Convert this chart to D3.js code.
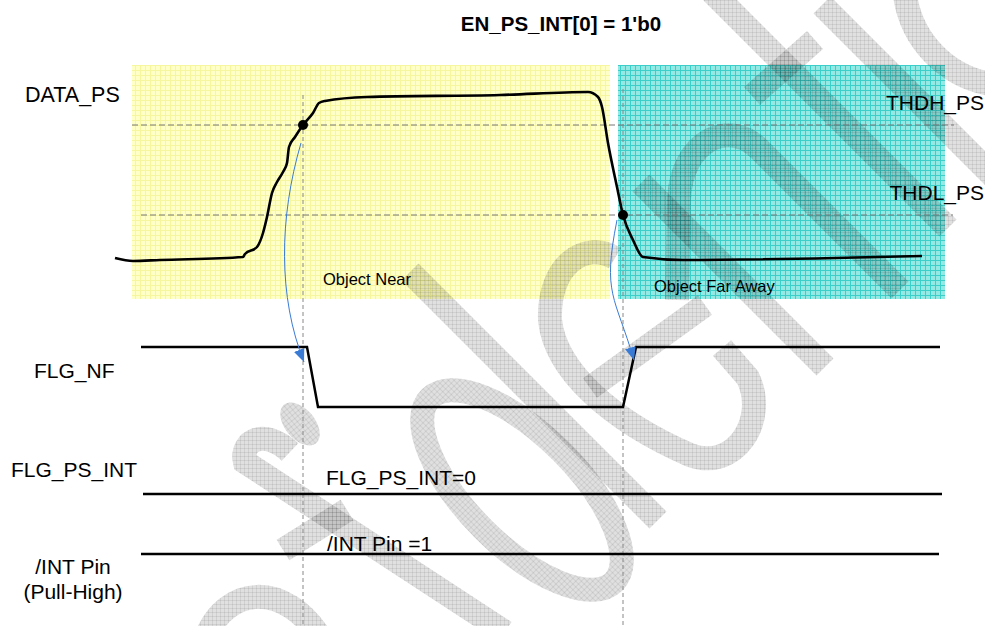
<!DOCTYPE html>
<html>
<head>
<meta charset="utf-8">
<script src="https://cdn.jsdelivr.net/npm/d3@7"></script>
<style>
  body { margin: 0; background: #fff; }
  svg { display: block; }
  text { font-family: Arial, "Liberation Sans", sans-serif; fill: #000; }
</style>
</head>
<body>
<svg id="chart"></svg>
<script>
const width = 985;
const height = 626;

// DATA_PS trace (time units, counts)
const psTime  = [0, 18, 45, 128, 130, 142, 148, 152, 157, 162, 168, 172, 174, 180, 188, 198, 204, 210, 252, 385, 473, 483, 487, 493, 502, 508, 518, 528, 568, 807];
const psValue = [7, 4, 5, 8, 11, 18, 32, 48, 72, 83, 93, 102, 118, 128, 140, 152, 162, 164, 168, 170, 173, 168, 158, 122, 78, 50, 25, 8, 5, 9];

// thresholds
const thresholdNames  = ["THDH_PS", "THDL_PS"];
const thresholdValues = [140, 50];
const thresholdSpan   = [[17, 839], [26, 838]];

// crossing events
const eventTime  = [188, 508];
const eventValue = [140, 50];

// shaded regions
const regionLabels = ["Object Near", "Object Far Away"];
const regionStart  = [17, 503];
const regionEnd    = [495, 830];

// digital signals
const nfTime  = [26, 192, 203, 508, 521, 825];
const nfLevel = [1, 1, 0, 0, 1, 1];
const psIntTime  = [28, 827];
const psIntLevel = [0, 0];
const intTime  = [26, 824];
const intLevel = [1, 1];

const x = d3.scaleLinear().domain([0, 807]).range([115, 922]);
const yPS = d3.scaleLinear().domain([0, 170]).range([265, 95]);
const yNF = d3.scaleLinear().domain([0, 1]).range([407, 347]);
const yPsInt = d3.scaleLinear().domain([0, 1]).range([494, 434]);
const yInt = d3.scaleLinear().domain([0, 1]).range([614, 554]);

const svg = d3.select("#chart").attr("width", width).attr("height", height);
const defs = svg.append("defs");

function gridPattern(id, base, line, size) {
    const p = defs.append("pattern").attr("id", id)
        .attr("patternUnits", "userSpaceOnUse")
        .attr("width", size).attr("height", size);
    p.append("rect").attr("width", size).attr("height", size).attr("fill", base);
    p.append("path").attr("d", "M0,0.5H" + size + "M0.5,0V" + size)
        .attr("stroke", line).attr("stroke-width", 1).attr("fill", "none");
}
gridPattern("yellowGrid", "#FFFFC8", "#F6F69E", 5);
gridPattern("cyanGrid", "#95E9E5", "#3CCFCA", 5);

const wm = defs.append("pattern").attr("id", "wmGrid")
    .attr("patternUnits", "userSpaceOnUse").attr("width", 4).attr("height", 4);
wm.append("rect").attr("width", 4).attr("height", 4).attr("fill", "#000").attr("fill-opacity", 0.12);
wm.append("path").attr("d", "M0,0.5H4M0.5,0V4").attr("stroke", "#000")
    .attr("stroke-opacity", 0.07).attr("fill", "none");

defs.append("marker").attr("id", "arrowhead")
    .attr("markerUnits", "userSpaceOnUse")
    .attr("viewBox", "0 0 13 11").attr("refX", 13).attr("refY", 5.5)
    .attr("markerWidth", 13).attr("markerHeight", 11)
    .attr("orient", "auto")
    .append("path").attr("d", "M0,0L13,5.5L0,11Z").attr("fill", "#3A7BD5");

// regions
svg.append("g").selectAll("rect")
    .data(regionLabels)
    .enter()
    .append("rect")
    .attr("x", function (d, i) { return x(regionStart[i]); })
    .attr("width", function (d, i) { return x(regionEnd[i]) - x(regionStart[i]); })
    .attr("y", yPS(200))
    .attr("height", yPS(-34) - yPS(200))
    .attr("fill", function (d, i) { return i === 0 ? "url(#yellowGrid)" : "url(#cyanGrid)"; });

// watermark (decorative)
const wmPaths = [
    "M712,-8L948,228",
    "M822,5L995,178",
    "M905,-5A105,105 0 0 0 990,84",
    "M752,96L815,40",
    "M677,300L679,200C681,140 730,118 760,150L900,290",
    "M641,183L825,367",
    "M410,272L658,520",
    "M590,388L705,305",
    "M615,258C585,240 548,265 550,320C555,370 610,420 690,455C735,472 768,420 748,378L722,348",
    "M290,452C265,428 240,440 245,462L505,632",
    "M283,550L347,510",
    "M205,640C225,585 285,580 322,640"
];
const wmG = svg.append("g").attr("class", "watermark");
wmG.selectAll("path").data(wmPaths).enter().append("path")
    .attr("d", function (d) { return d; })
    .attr("fill", "none")
    .attr("stroke", "url(#wmGrid)")
    .attr("stroke-width", 24);
wmG.append("ellipse").attr("cx", 300).attr("cy", 424).attr("rx", 25).attr("ry", 15)
    .attr("transform", "rotate(50,300,424)").attr("fill", "url(#wmGrid)");
wmG.append("ellipse").attr("cx", 522).attr("cy", 490).attr("rx", 130).attr("ry", 55)
    .attr("transform", "rotate(45,522,490)").attr("fill", "none")
    .attr("stroke", "url(#wmGrid)").attr("stroke-width", 24);

// thresholds
svg.append("g").selectAll("line")
    .data(thresholdValues)
    .enter()
    .append("line")
    .attr("x1", function (d, i) { return x(thresholdSpan[i][0]); })
    .attr("x2", function (d, i) { return x(thresholdSpan[i][1]); })
    .attr("y1", function (d) { return yPS(d); })
    .attr("y2", function (d) { return yPS(d); })
    .attr("stroke", "#777")
    .attr("stroke-width", 1)
    .attr("stroke-dasharray", "6,3");

// event markers
svg.append("g").selectAll("line")
    .data(eventTime)
    .enter()
    .append("line")
    .attr("x1", function (d) { return x(d); })
    .attr("x2", function (d) { return x(d); })
    .attr("y1", function (d, i) { return yPS(i === 0 ? 170 : 176); })
    .attr("y2", height)
    .attr("stroke", "#888")
    .attr("stroke-width", 1)
    .attr("stroke-dasharray", "4,3");

// DATA_PS trace
const psLine = d3.line()
    .x(function (d, i) { return x(psTime[i]); })
    .y(function (d) { return yPS(d); })
    .curve(d3.curveMonotoneX);

svg.append("path")
    .attr("d", psLine(psValue))
    .attr("fill", "none")
    .attr("stroke", "#000")
    .attr("stroke-width", 2.6);

svg.append("g").selectAll("circle")
    .data(eventTime)
    .enter()
    .append("circle")
    .attr("cx", function (d) { return x(d); })
    .attr("cy", function (d, i) { return yPS(eventValue[i]); })
    .attr("r", 5)
    .attr("fill", "#000");

// digital waveforms
function wave(times, levels, yScale) {
    const line = d3.line()
        .x(function (d, i) { return x(times[i]); })
        .y(function (d) { return yScale(d); });
    svg.append("path")
        .attr("d", line(levels))
        .attr("fill", "none")
        .attr("stroke", "#000")
        .attr("stroke-width", 2.5)
        .attr("stroke-linejoin", "miter");
}
wave(nfTime, nfLevel, yNF);
wave(psIntTime, psIntLevel, yPsInt);
wave(intTime, intLevel, yInt);

// cause arrows from crossings to FLG_NF edges
const arrowStart = [[x(eventTime[0]) - 2, yPS(eventValue[0]) + 18], [x(eventTime[1]) - 6, yPS(eventValue[1]) + 5]];
const arrowEnd = [[x(nfTime[1]) - 3, yNF(0.75)], [x(nfTime[4]) - 2, yNF(0.78)]];
svg.append("g").selectAll("path")
    .data(arrowStart)
    .enter()
    .append("path")
    .attr("d", function (s, i) {
        const e = arrowEnd[i];
        const dx = i === 0 ? 22 : 15;
        const p = d3.path();
        p.moveTo(s[0], s[1]);
        p.bezierCurveTo(s[0] - dx, s[1] + 75, e[0] - dx - 4, e[1] - 65, e[0], e[1]);
        return p.toString();
    })
    .attr("fill", "none")
    .attr("stroke", "#3A7BD5")
    .attr("stroke-width", 1)
    .attr("marker-end", "url(#arrowhead)");

// texts
svg.append("text")
    .attr("x", 561).attr("y", 31)
    .attr("text-anchor", "middle")
    .style("font-size", "20.5px")
    .style("font-weight", "bold")
    .text("EN_PS_INT[0] = 1'b0");

svg.append("text").attr("x", 25).attr("y", 102).style("font-size", "21.5px").text("DATA_PS");

svg.append("g").selectAll("text")
    .data(thresholdNames)
    .enter()
    .append("text")
    .attr("x", 984)
    .attr("y", function (d, i) { return yPS(thresholdValues[i]) - 15; })
    .attr("text-anchor", "end")
    .style("font-size", "21px")
    .text(function (d) { return d; });

svg.append("g").selectAll("text")
    .data(regionLabels)
    .enter()
    .append("text")
    .attr("x", function (d, i) { return x(regionStart[i]) + (i === 0 ? 191 : 36); })
    .attr("y", function (d, i) { return i === 0 ? 285 : 292; })
    .style("font-size", "16.5px")
    .text(function (d) { return d; });

svg.append("text").attr("x", 34).attr("y", 378).style("font-size", "21px").text("FLG_NF");
svg.append("text").attr("x", 11).attr("y", 477).style("font-size", "21px").text("FLG_PS_INT");
svg.append("text").attr("x", 73).attr("y", 574).attr("text-anchor", "middle").style("font-size", "21px").text("/INT Pin");
svg.append("text").attr("x", 73).attr("y", 599).attr("text-anchor", "middle").style("font-size", "21px").text("(Pull-High)");

svg.append("text").attr("x", 326).attr("y", 485).style("font-size", "21px").text("FLG_PS_INT=0");
svg.append("text").attr("x", 327).attr("y", 551).style("font-size", "21px").text("/INT Pin =1");
</script>
</body>
</html>
